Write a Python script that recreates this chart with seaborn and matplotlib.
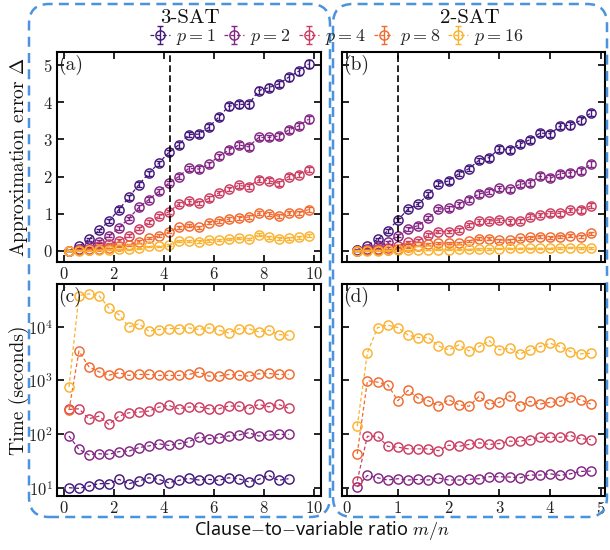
import numpy as np
import pandas as pd
import matplotlib
matplotlib.use("Agg")
import matplotlib.pyplot as plt
import seaborn as sns
from matplotlib.patches import FancyBboxPatch
from matplotlib.transforms import IdentityTransform
from matplotlib.ticker import LogLocator, NullLocator, LogFormatterSciNotation

# ---------------- data ----------------
p_labels = ["$p = 1$", "$p = 2$", "$p = 4$", "$p = 8$", "$p = 16$"]
colors = ["#44197c", "#832784", "#cc3d62", "#f16a2f", "#fbb22e"]

x3 = [0.2, 0.6, 1.0, 1.4, 1.8, 2.2, 2.6, 3.0, 3.4, 3.8, 4.2, 4.6, 5.0,
      5.4, 5.8, 6.2, 6.6, 7.0, 7.4, 7.8, 8.2, 8.6, 9.0, 9.4, 9.8]
a_p1 = [0.00, 0.12, 0.31, 0.55, 0.80, 1.11, 1.44, 1.78, 2.09, 2.36, 2.65, 2.85, 3.13,
        3.14, 3.32, 3.60, 3.89, 3.94, 3.94, 4.31, 4.39, 4.49, 4.67, 4.83, 5.03]
a_p2 = [0.00, 0.06, 0.13, 0.25, 0.40, 0.62, 0.87, 1.17, 1.38, 1.60, 1.82, 2.00, 2.22,
        2.20, 2.33, 2.54, 2.71, 2.85, 2.80, 3.05, 3.05, 3.09, 3.25, 3.36, 3.54]
a_p4 = [0.00, 0.03, 0.06, 0.12, 0.18, 0.27, 0.40, 0.60, 0.77, 0.93, 1.05, 1.26, 1.33,
        1.29, 1.41, 1.56, 1.67, 1.76, 1.73, 1.91, 1.89, 1.82, 2.00, 2.05, 2.18]
a_p8 = [0.00, 0.02, 0.03, 0.04, 0.07, 0.12, 0.16, 0.25, 0.34, 0.40, 0.51, 0.64, 0.67,
        0.64, 0.76, 0.80, 0.85, 0.89, 0.91, 1.01, 1.00, 0.93, 1.02, 1.02, 1.11]
a_p16 = [0.00, 0.00, 0.01, 0.02, 0.03, 0.04, 0.04, 0.07, 0.12, 0.12, 0.16, 0.27, 0.27,
         0.25, 0.28, 0.30, 0.31, 0.34, 0.31, 0.43, 0.37, 0.33, 0.34, 0.37, 0.40]
a_err_p1 = [0.01, 0.03, 0.04, 0.05, 0.05, 0.06, 0.06, 0.06, 0.07, 0.07, 0.07, 0.07, 0.08,
            0.08, 0.08, 0.08, 0.09, 0.09, 0.09, 0.09, 0.09, 0.09, 0.09, 0.10, 0.10]
a_err_p2 = [0.01, 0.02, 0.03, 0.04, 0.04, 0.05, 0.05, 0.06, 0.06, 0.06, 0.06, 0.07, 0.07,
            0.07, 0.07, 0.07, 0.08, 0.08, 0.08, 0.08, 0.08, 0.08, 0.08, 0.09, 0.09]
a_err_p4 = [0.01, 0.01, 0.02, 0.03, 0.03, 0.04, 0.04, 0.05, 0.05, 0.05, 0.05, 0.06, 0.06,
            0.06, 0.06, 0.06, 0.06, 0.07, 0.07, 0.07, 0.07, 0.07, 0.07, 0.07, 0.07]
a_err_p8 = [0.01, 0.01, 0.01, 0.02, 0.02, 0.02, 0.03, 0.03, 0.03, 0.04, 0.04, 0.04, 0.04,
            0.04, 0.05, 0.05, 0.05, 0.05, 0.05, 0.05, 0.05, 0.05, 0.05, 0.05, 0.06]
a_err_p16 = [0.01, 0.01, 0.01, 0.01, 0.01, 0.01, 0.02, 0.02, 0.02, 0.02, 0.02, 0.03, 0.03,
             0.03, 0.03, 0.03, 0.03, 0.03, 0.03, 0.04, 0.04, 0.04, 0.04, 0.04, 0.04]

x2 = [0.2, 0.4, 0.6, 0.8, 1.0, 1.2, 1.4, 1.6, 1.8, 2.0, 2.2, 2.4,
      2.6, 2.8, 3.0, 3.2, 3.4, 3.6, 3.8, 4.0, 4.2, 4.4, 4.6, 4.8]
b_p1 = [0.03, 0.14, 0.31, 0.54, 0.83, 1.12, 1.26, 1.52, 1.81, 1.88, 2.08, 2.21,
        2.44, 2.51, 2.75, 2.71, 2.87, 2.99, 3.17, 3.15, 3.36, 3.38, 3.51, 3.71]
b_p2 = [0.01, 0.05, 0.12, 0.23, 0.41, 0.59, 0.68, 0.88, 1.12, 1.14, 1.25, 1.38,
        1.53, 1.59, 1.68, 1.66, 1.79, 1.83, 2.01, 1.95, 2.08, 2.10, 2.15, 2.33]
b_p4 = [0.00, 0.03, 0.04, 0.09, 0.14, 0.23, 0.27, 0.43, 0.52, 0.52, 0.56, 0.70,
        0.79, 0.80, 0.83, 0.79, 0.81, 0.92, 0.96, 1.01, 1.01, 1.10, 1.10, 1.21]
b_p8 = [0.00, 0.01, 0.02, 0.03, 0.05, 0.10, 0.14, 0.19, 0.21, 0.21, 0.22, 0.27,
        0.32, 0.32, 0.29, 0.29, 0.34, 0.36, 0.38, 0.36, 0.38, 0.40, 0.38, 0.47]
b_p16 = [0.00, 0.00, 0.00, 0.01, 0.01, 0.01, 0.02, 0.02, 0.03, 0.03, 0.04, 0.04,
         0.05, 0.05, 0.06, 0.07, 0.07, 0.07, 0.07, 0.07, 0.08, 0.09, 0.08, 0.08]
b_err_p1 = [0.01, 0.03, 0.04, 0.05, 0.05, 0.06, 0.06, 0.06, 0.07, 0.07, 0.07, 0.07,
            0.07, 0.08, 0.08, 0.08, 0.08, 0.08, 0.08, 0.08, 0.09, 0.09, 0.09, 0.09]
b_err_p2 = [0.01, 0.02, 0.03, 0.04, 0.05, 0.05, 0.06, 0.06, 0.06, 0.06, 0.07, 0.07,
            0.07, 0.07, 0.07, 0.07, 0.08, 0.08, 0.08, 0.08, 0.08, 0.08, 0.08, 0.08]
b_err_p4 = [0.01, 0.01, 0.02, 0.03, 0.03, 0.04, 0.04, 0.05, 0.05, 0.05, 0.05, 0.05,
            0.06, 0.06, 0.06, 0.06, 0.06, 0.06, 0.06, 0.06, 0.06, 0.06, 0.07, 0.07]
b_err_p8 = [0.01, 0.01, 0.01, 0.01, 0.02, 0.02, 0.02, 0.03, 0.03, 0.03, 0.03, 0.03,
            0.04, 0.04, 0.04, 0.04, 0.04, 0.04, 0.04, 0.04, 0.04, 0.04, 0.04, 0.05]
b_err_p16 = [0.01, 0.01, 0.01, 0.01, 0.01, 0.01, 0.01, 0.01, 0.01, 0.01, 0.01, 0.01,
             0.02, 0.02, 0.02, 0.02, 0.02, 0.02, 0.02, 0.02, 0.02, 0.02, 0.02, 0.02]

x3t = [0.2, 0.6, 1.0, 1.4, 1.8, 2.2, 2.6, 3.0, 3.4, 3.8, 4.2, 4.6,
       5.0, 5.4, 5.8, 6.2, 6.6, 7.0, 7.4, 7.8, 8.2, 8.6, 9.0]
c_p1 = [10.0, 9.7, 10.7, 11.9, 11.9, 14.3, 11.9, 13.3, 15.3, 14.3, 12.4, 13.7,
        14.9, 13.9, 14.3, 13.7, 15.3, 14.7, 12.9, 14.3, 17.0, 13.7, 14.7]
c_p2 = [92, 52, 41, 43, 42, 47, 48, 56, 60, 66, 61.5, 66,
        72, 88, 82, 85.5, 92, 96, 106, 92, 96, 98.6, 98.6]
c_p4 = [288, 296, 193, 216, 151, 216, 250, 257, 268, 319, 342, 296,
        319, 323, 296, 296, 333, 333, 296, 357, 323, 357, 301]
c_p8 = [280, 3520, 1800, 1450, 1256, 1390, 1240, 1294, 1294, 1240, 1240, 1240,
        1294, 1430, 1205, 1205, 1294, 1240, 1205, 1330, 1350, 1294, 1294]
c_p16 = [751, 38400, 41200, 38400, 22600, 17000, 10000, 11400, 8300, 8900, 9300, 9300,
         9580, 8900, 9580, 8670, 7730, 9180, 9300, 8070, 8670, 7200, 7000]

d_p2 = [10.4, 16.9, 15.3, 13.9, 14.7, 13.9, 14.3, 13.9, 15.1, 13.9, 13.9, 14.3,
        14.7, 16.0, 16.0, 15.8, 15.3, 17.2, 17.2, 18.2, 16.9, 18.2, 20.1, 20.4]
d_p4 = [13.5, 91, 91, 59, 57, 53, 53, 53, 49, 62, 59, 64,
        68.6, 64, 66.7, 73.6, 73.6, 79, 87, 87, 87, 94, 82, 79]
d_p8 = [42.8, 986, 931, 831, 419, 652, 470, 419, 338, 437, 353, 329,
        505, 363, 390, 519, 338, 407, 363, 390, 407, 483, 437, 363]
d_p16 = [140, 3310, 9660, 10800, 9660, 7050, 6300, 6300, 4400, 3720, 4600, 3560,
         4280, 5540, 3720, 3990, 3130, 3720, 4280, 4930, 4280, 3460, 3130, 3220]

# ---------------- style ----------------
sns.set_theme(style="ticks")
plt.rcParams["font.family"] = ["cmr10", "DejaVu Serif"]
plt.rcParams["mathtext.fontset"] = "cm"
plt.rcParams["axes.formatter.use_mathtext"] = True
plt.rcParams["axes.unicode_minus"] = False

W, H = 610, 550
fig = plt.figure(figsize=(W / 100, H / 100), dpi=100)

def box(l, t, r, b):
    return [l / W, 1 - b / H, (r - l) / W, (b - t) / H]

ax_a = fig.add_axes(box(57, 52, 321, 262))
ax_b = fig.add_axes(box(342, 52, 605, 262))
ax_c = fig.add_axes(box(57, 284, 321, 496))
ax_d = fig.add_axes(box(342, 284, 605, 496))

line_kw = dict(marker="o", markersize=6.6, markerfacecolor="none", markeredgewidth=1.05,
               linestyle=(0, (3, 2)), linewidth=0.9, errorbar=None, legend=False)

def draw(ax, x, ys, cols, errs=None):
    handles = []
    for i, (y, c) in enumerate(zip(ys, cols)):
        df = pd.DataFrame({"x": x, "y": y})
        sns.lineplot(data=df, x="x", y="y", ax=ax, color=c, markeredgecolor=c, **line_kw)
        ln = ax.lines[-1]
        eb = None
        if errs is not None:
            eb = ax.errorbar(x, y, yerr=errs[i], fmt="none", ecolor=c, elinewidth=1.0,
                             capsize=2.0, capthick=1.0)
        handles.append((ln, eb))
    return handles

hs = draw(ax_a, x3, [a_p1, a_p2, a_p4, a_p8, a_p16], colors,
          [a_err_p1, a_err_p2, a_err_p4, a_err_p8, a_err_p16])
draw(ax_b, x2, [b_p1, b_p2, b_p4, b_p8, b_p16], colors,
     [b_err_p1, b_err_p2, b_err_p4, b_err_p8, b_err_p16])
draw(ax_c, x3t, [c_p1, c_p2, c_p4, c_p8, c_p16], colors)
draw(ax_d, x2, [d_p2, d_p4, d_p8, d_p16], colors[1:])

ax_a.axvline(4.26, color="black", linestyle=(0, (4, 2)), linewidth=1.2)
ax_b.axvline(1.0, color="black", linestyle=(0, (4, 2)), linewidth=1.2)

for ax in (ax_a, ax_b):
    ax.set_ylim(-0.3, 5.35)
    ax.set_yticks([0, 1, 2, 3, 4, 5])
for ax in (ax_c, ax_d):
    ax.set_yscale("log")
    ax.set_ylim(7, 63000)
    ax.yaxis.set_major_locator(LogLocator(base=10, subs=(1.0,), numticks=10))
    ax.yaxis.set_minor_locator(NullLocator())
    ax.yaxis.set_major_formatter(LogFormatterSciNotation())
for ax in (ax_a, ax_c):
    ax.set_xlim(-0.28, 10.3)
    ax.set_xticks([0, 2, 4, 6, 8, 10])
for ax in (ax_b, ax_d):
    ax.set_xlim(-0.1, 5.08)
    ax.set_xticks([0, 1, 2, 3, 4, 5])

for ax in (ax_a, ax_b, ax_c, ax_d):
    ax.set_xlabel("")
    ax.set_ylabel("")
    ax.tick_params(direction="in", top=True, right=True, length=5, width=1.2,
                   labelsize=12, pad=3, color="black", labelcolor="#222222")
    ax.tick_params(which="minor", length=0)
    for s in ax.spines.values():
        s.set_linewidth(1.5)
        s.set_color("black")
    ax.set_facecolor("white")

ax_b.tick_params(labelleft=False, labelbottom=False)
ax_d.tick_params(labelleft=False)

for ax, lab in zip((ax_a, ax_b, ax_c, ax_d), ("(a)", "(b)", "(c)", "(d)")):
    ax.text(0.005, 0.985, lab, transform=ax.transAxes, ha="left", va="top",
            fontsize=14, color="#222222")

# legend
fig.legend([h for h in hs], p_labels, ncol=5, loc="center",
           bbox_to_anchor=(337 / W, 1 - 37 / H), frameon=False, fontsize=13,
           handlelength=1.1, handletextpad=0.35, columnspacing=0.45, borderpad=0.1)

# titles / labels
fig.text(190 / W, 1 - 18 / H, "3-SAT", ha="center", va="center", fontsize=15, color="#111111")
fig.text(470 / W, 1 - 18 / H, "2-SAT", ha="center", va="center", fontsize=15, color="#111111")
fig.text(19 / W, 1 - 157 / H, "Approximation error $\\Delta$", rotation=90,
         ha="center", va="center", fontsize=14, color="#111111")
fig.text(19 / W, 1 - 390 / H, "Time (seconds)", rotation=90,
         ha="center", va="center", fontsize=14, color="#111111")
fig.text(322 / W, 1 - 531 / H, "Clause$-$to$-$variable ratio $m/n$",
         ha="center", va="center", fontsize=13, color="#111111",
         family=["Noto Sans", "DejaVu Sans"])

# dashed rounded group boxes (pixel coordinates)
for (l, r) in ((29, 330), (333, 607)):
    patch = FancyBboxPatch((l + 14, 33 + 14), (r - l) - 28, (546 - 33) - 28,
                           boxstyle="round,pad=14,rounding_size=20",
                           transform=IdentityTransform(), fill=False,
                           edgecolor="#4b93dc", linewidth=1.8,
                           linestyle=(0, (4, 2.5)), zorder=0)
    fig.patches.append(patch)

fig.savefig("out.png", dpi=100, facecolor="white")
